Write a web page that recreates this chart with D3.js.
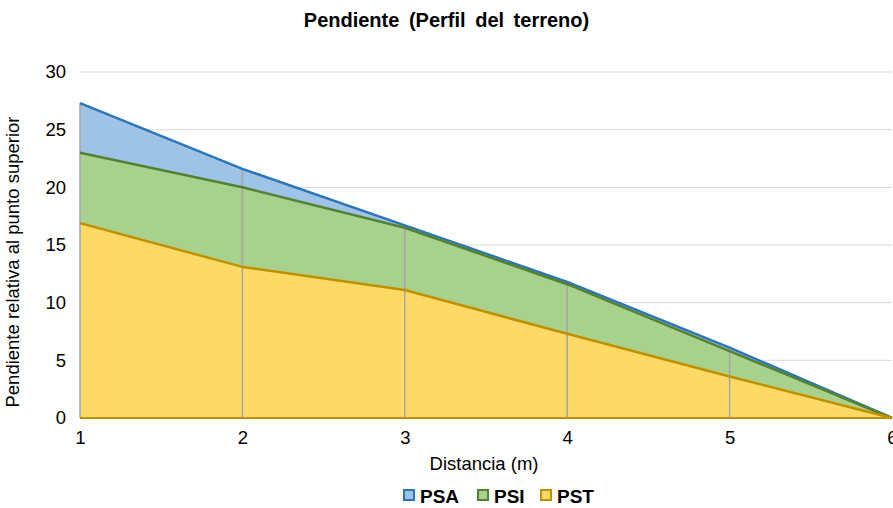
<!DOCTYPE html>
<html>
<head>
<meta charset="utf-8">
<script src="https://cdn.jsdelivr.net/npm/d3@7"></script>
<style>
    body { margin: 0; background: #fff; }
    text { font-family: "Liberation Sans", Arial, sans-serif; fill: #000; }
    .grid line { stroke: #d9d9d9; stroke-width: 1; }
    .axis path, .axis line { display: none; }
    .axis text { font-size: 18.5px; font-family: "Liberation Sans", Arial, sans-serif; }
</style>
</head>
<body>
<svg class="chart"></svg>
<script>
var distances = [1, 2, 3, 4, 5, 6];
var psaValues = [27.3, 21.6, 16.7, 11.8, 6.1, 0];
var psiValues = [23.0, 20.0, 16.5, 11.6, 5.8, 0];
var pstValues = [16.9, 13.1, 11.1, 7.3, 3.6, 0];
var yTicks = [0, 5, 10, 15, 20, 25, 30];

var seriesList = [
    {name: "PSA", values: psaValues, fill: "#9dc3e6", stroke: "#2e75b6"},
    {name: "PSI", values: psiValues, fill: "#a9d18e", stroke: "#548235"},
    {name: "PST", values: pstValues, fill: "#ffd966", stroke: "#bf9000"}
];

var outerSize = {width: 893, height: 508};
var margin = {top: 72, right: 1, bottom: 90, left: 80};
var innerSize = {width: outerSize.width - margin.left - margin.right,
    height: outerSize.height - margin.top - margin.bottom};

var svg = d3.select(".chart")
        .attr("width", outerSize.width)
        .attr("height", outerSize.height);

svg.append("text")
        .attr("x", outerSize.width / 2)
        .attr("y", 27)
        .style("text-anchor", "middle")
        .style("font-size", "20px")
        .style("font-weight", "bold")
        .style("word-spacing", "4px")
        .text("Pendiente (Perfil del terreno)");

var chart = svg.append("g")
        .attr("transform", "translate(" + margin.left + "," + margin.top + ")");

var xRange = d3.scaleLinear()
        .domain([1, 6])
        .range([0, innerSize.width]);
var yRange = d3.scaleLinear()
        .domain([0, 30])
        .range([innerSize.height, 0]);

// gridlines
chart.append("g")
        .attr("class", "grid")
        .selectAll("line")
        .data(yTicks.slice(1))
        .enter().append("line")
        .attr("x1", 0)
        .attr("x2", innerSize.width)
        .attr("y1", function (d) { return yRange(d); })
        .attr("y2", function (d) { return yRange(d); });

// areas
seriesList.forEach(function (s) {
    var pts = distances.map(function (d, i) { return [d, s.values[i]]; });
    chart.append("path")
            .datum(pts)
            .attr("fill", s.fill)
            .attr("d", d3.area()
                    .x(function (p) { return xRange(p[0]); })
                    .y0(yRange(0))
                    .y1(function (p) { return yRange(p[1]); }));
});

// drop lines
chart.append("g")
        .selectAll("line")
        .data(distances)
        .enter().append("line")
        .attr("x1", function (d) { return xRange(d); })
        .attr("x2", function (d) { return xRange(d); })
        .attr("y1", yRange(0))
        .attr("y2", function (d, i) { return yRange(psaValues[i]); })
        .attr("stroke", "#a6a6a6")
        .attr("stroke-width", 1.5);

// series outlines
seriesList.forEach(function (s) {
    var pts = distances.map(function (d, i) { return [d, s.values[i]]; });
    chart.append("path")
            .datum(pts)
            .attr("fill", "none")
            .attr("stroke", s.stroke)
            .attr("stroke-width", 2.5)
            .attr("stroke-linejoin", "round")
            .attr("d", d3.line()
                    .x(function (p) { return xRange(p[0]); })
                    .y(function (p) { return yRange(p[1]); }));
});

// bottom edge
chart.append("line")
        .attr("x1", 0)
        .attr("x2", innerSize.width)
        .attr("y1", yRange(0))
        .attr("y2", yRange(0))
        .attr("stroke", "#bf9000")
        .attr("stroke-width", 2);

chart.append("g")
        .attr("class", "x axis")
        .attr("transform", "translate(0," + innerSize.height + ")")
        .call(d3.axisBottom(xRange).tickValues(distances).tickFormat(d3.format("d")).tickSize(0).tickPadding(13));

chart.append("g")
        .attr("class", "y axis")
        .call(d3.axisLeft(yRange).tickValues(yTicks).tickSize(0).tickPadding(14));

chart.append("text")
        .attr("x", innerSize.width / 2 - 2)
        .attr("y", innerSize.height + 52)
        .style("text-anchor", "middle")
        .style("font-size", "18.5px")
        .text("Distancia (m)");

chart.append("text")
        .attr("transform", "rotate(-90)")
        .attr("x", -innerSize.height / 2 - 17)
        .attr("y", -61)
        .style("text-anchor", "middle")
        .style("font-size", "18.5px")
        .text("Pendiente relativa al punto superior");

// legend
var legend = svg.append("g")
        .attr("transform", "translate(403,489)");
var legendX = [0, 74, 137];
var legendItem = legend.selectAll(".legendItem")
        .data(seriesList)
        .enter().append("g")
        .attr("class", "legendItem")
        .attr("transform", function (s, i) { return "translate(" + legendX[i] + ",0)"; });
legendItem.append("rect")
        .attr("x", 1)
        .attr("y", 1)
        .attr("width", 10)
        .attr("height", 10)
        .attr("fill", function (s) { return s.fill; })
        .attr("stroke", function (s) { return s.stroke; })
        .attr("stroke-width", 2);
legendItem.append("text")
        .attr("x", 17)
        .attr("y", 14)
        .style("font-size", "19px")
        .style("font-weight", "bold")
        .text(function (s) { return s.name; });
</script>
</body>
</html>
